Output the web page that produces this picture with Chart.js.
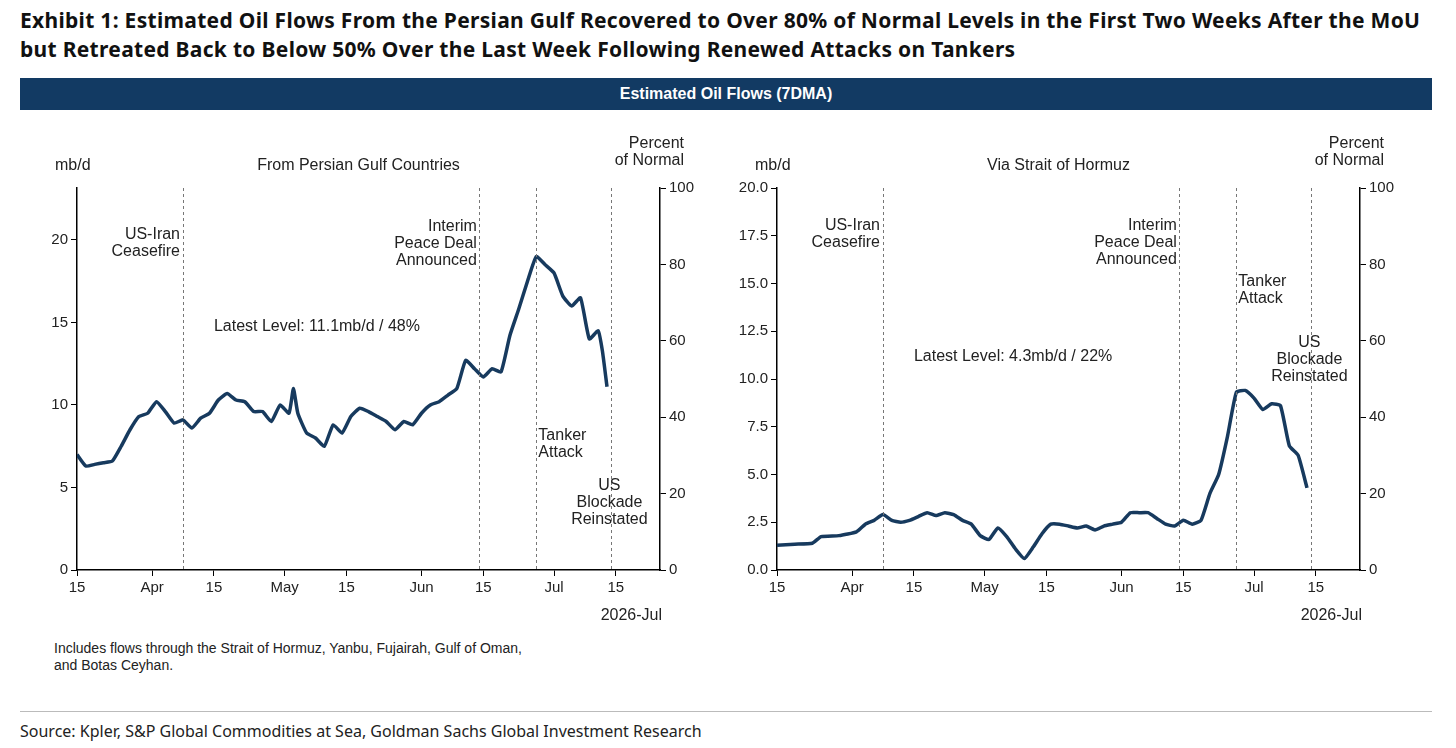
<!DOCTYPE html>
<html>
<head>
<meta charset="utf-8">
<script src="https://cdn.jsdelivr.net/npm/chart.js@4.4.1/dist/chart.umd.min.js"></script>
<style>
  body { margin: 0; background: #fff; font-family: "Liberation Sans", Arial, sans-serif; }
  #title { position: absolute; left: 20px; top: 6px; width: 1425px; font-family: "Noto Sans", sans-serif; font-weight: bold; font-size: 21px; letter-spacing: 0.3px; line-height: 29px; color: #111; }
  #bar { position: absolute; left: 20px; top: 78px; width: 1412px; height: 32px; background: #123a63; color: #fff; font-weight: bold; font-size: 16px; text-align: center; line-height: 32px; }
  .box { position: absolute; top: 120px; width: 700px; height: 520px; }
  #note { position: absolute; left: 54px; top: 640px; font-size: 14px; line-height: 17px; color: #222; }
  #rule { position: absolute; left: 20px; top: 711px; width: 1412px; border-top: 1px solid #bbb; }
  #source { position: absolute; left: 20px; top: 720px; font-family: "Noto Sans", sans-serif; font-size: 16px; color: #222; }
</style>
</head>
<body>
<div id="title">Exhibit 1: Estimated Oil Flows From the Persian Gulf Recovered to Over 80% of Normal Levels in the First Two Weeks After the MoU but Retreated Back to Below 50% Over the Last Week Following Renewed Attacks on Tankers</div>
<div id="bar">Estimated Oil Flows (7DMA)</div>
<div class="box" style="left:0px"><canvas id="gulf"></canvas></div>
<div class="box" style="left:700px"><canvas id="hormuz"></canvas></div>
<div id="note">Includes flows through the Strait of Hormuz, Yanbu, Fujairah, Gulf of Oman,<br>and Botas Ceyhan.</div>
<div id="rule"></div>
<div id="source">Source: Kpler, S&amp;P Global Commodities at Sea, Goldman Sachs Global Investment Research</div>
<script>
// days since 15 Mar 2026
const days = [0,2,4,6,8,10,12,14,16,18,20,22,24,26,28,30,32,34,36,38,40,42,44,46,48,49,50,52,54,56,58,60,62,64,66,68,70,72,74,76,78,80,82,84,86,88,90,92,94,96,98,100,102,104,106,108,110,112,114,116,118,119,120];
const gulfFlows = [7.0,6.3,6.4,6.5,6.6,7.5,8.5,9.3,9.5,10.2,9.6,8.9,9.1,8.6,9.2,9.5,10.3,10.7,10.3,10.2,9.6,9.6,9.0,10.0,9.5,11.0,9.5,8.3,8.0,7.5,8.8,8.3,9.3,9.8,9.6,9.3,9.0,8.5,9.0,8.8,9.5,10.0,10.2,10.6,11.0,12.7,12.2,11.7,12.2,12.0,14.2,15.8,17.5,19.0,18.5,18.0,16.6,16.0,16.5,14.0,14.5,13.2,11.1];

const hormuzDays = [0,4,8,10,14,18,20,22,24,26,28,30,32,34,36,38,40,42,44,46,48,50,52,54,56,58,60,62,64,66,68,70,72,74,76,78,80,82,84,86,88,90,92,94,96,98,100,102,104,106,108,110,112,114,116,118,120];
const hormuzFlows = [1.3,1.35,1.4,1.75,1.8,2.0,2.4,2.6,2.9,2.6,2.5,2.6,2.8,3.0,2.85,3.0,2.9,2.6,2.4,1.8,1.6,2.2,1.75,1.1,0.6,1.2,1.9,2.4,2.4,2.3,2.2,2.3,2.1,2.3,2.4,2.5,3.0,3.0,3.0,2.7,2.4,2.3,2.6,2.4,2.6,4.0,5.0,7.0,9.3,9.4,9.0,8.4,8.7,8.6,6.5,6.0,4.3];

const tickDays = [0,17,31,47,61,78,92,108,122];
const tickLabels = ['15','Apr','15','May','15','Jun','15','Jul','15'];

const eventDays = [24,91,104,121];

function makeChart(id, o) {
  const lineColor = '#173a5e';
  const annot = {
    id: 'annot',
    afterDraw(chart) {
      const c = chart.ctx, a = chart.chartArea;
      const xs = chart.scales.x;
      c.save();
      // event lines
      c.strokeStyle = '#777'; c.lineWidth = 1; c.setLineDash([3, 3]);
      eventDays.forEach(d => {
        const px = Math.round(xs.getPixelForValue(d)) + 0.5;
        c.beginPath(); c.moveTo(px, a.top); c.lineTo(px, a.bottom); c.stroke();
      });
      c.setLineDash([]);
      c.fillStyle = '#222';
      c.font = '16px "Liberation Sans", Arial, sans-serif';
      c.textBaseline = 'alphabetic';
      const lines = (arr, x, y, align) => { c.textAlign = align; arr.forEach((t, i) => c.fillText(t, x, y + i * 17)); };
      const ex = eventDays.map(d => xs.getPixelForValue(d));
      lines(['US-Iran', 'Ceasefire'], ex[0] - 3, a.top + o.ceaseY, 'right');
      lines(['Interim', 'Peace Deal', 'Announced'], ex[1] - 2, a.top + o.dealY, 'right');
      lines(['Tanker', 'Attack'], ex[2] + 2, a.top + o.tankY, 'left');
      lines(['US', 'Blockade', 'Reinstated'], ex[3] - 2, a.top + o.blockY, 'center');
      lines([o.latest], xs.getPixelForValue(o.latestDay), a.top + o.latestY, 'left');
      // headers
      lines(['mb/d'], a.left - 22, a.top - 18, 'left');
      lines([o.subtitle], (a.left + a.right) / 2 - 10, a.top - 18, 'center');
      lines(['Percent', 'of Normal'], a.right + 24, a.top - 40, 'right');
      lines(['2026-Jul'], a.right + 2, a.bottom + 50, 'right');
      c.restore();
    }
  };
  return new Chart(document.getElementById(id), {
    type: 'line',
    data: {
      datasets: [{
        data: o.x.map((d, i) => ({ x: d, y: o.y[i] })),
        borderColor: lineColor, borderWidth: 3.5, pointRadius: 0, tension: 0.15, yAxisID: 'y'
      }, {
        data: [], yAxisID: 'y2'
      }]
    },
    options: {
      responsive: true, maintainAspectRatio: false, animation: false,
      layout: { padding: { top: 68, bottom: 40, left: 37, right: 0 } },
      plugins: { legend: { display: false }, tooltip: { enabled: false } },
      scales: {
        x: {
          type: 'linear', min: 0, max: 132,
          afterBuildTicks: s => { s.ticks = tickDays.map(v => ({ value: v })); },
          ticks: { autoSkip: false, maxRotation: 0, color: '#222', font: { size: 15 }, callback: (v) => tickLabels[tickDays.indexOf(v)] },
          grid: { drawOnChartArea: false, tickLength: 6, color: '#000' },
          border: { color: '#000', width: 1.5 }
        },
        y: {
          position: 'left', min: 0, max: o.max,
          afterBuildTicks: s => { s.ticks = o.yTicks.map(v => ({ value: v })); },
          afterFit: s => { s.width = 40; },
          ticks: { color: '#222', font: { size: 15 }, callback: v => o.fmt(v) },
          grid: { drawOnChartArea: false, tickLength: 6, color: '#000' },
          border: { color: '#000', width: 1.5 }
        },
        y2: {
          position: 'right', min: 0, max: 100,
          afterBuildTicks: s => { s.ticks = [0,20,40,60,80,100].map(v => ({ value: v })); },
          afterFit: s => { s.width = 40; },
          ticks: { color: '#222', font: { size: 15 } },
          grid: { drawOnChartArea: false, tickLength: 6, color: '#000' },
          border: { color: '#000', width: 1.5 }
        }
      }
    },
    plugins: [annot]
  });
}

makeChart('gulf', {
  x: days, y: gulfFlows, max: 23.15, yTicks: [0,5,10,15,20], fmt: v => String(v),
  subtitle: 'From Persian Gulf Countries', latest: 'Latest Level: 11.1mb/d / 48%', latestDay: 31, latestY: 143,
  ceaseY: 51, dealY: 43, tankY: 252, blockY: 302
});
makeChart('hormuz', {
  x: hormuzDays, y: hormuzFlows, max: 20, yTicks: [0,2.5,5,7.5,10,12.5,15,17.5,20], fmt: v => v.toFixed(1),
  subtitle: 'Via Strait of Hormuz', latest: 'Latest Level: 4.3mb/d / 22%', latestDay: 31, latestY: 173,
  ceaseY: 42, dealY: 42, tankY: 98, blockY: 159
});
</script>
</body>
</html>
